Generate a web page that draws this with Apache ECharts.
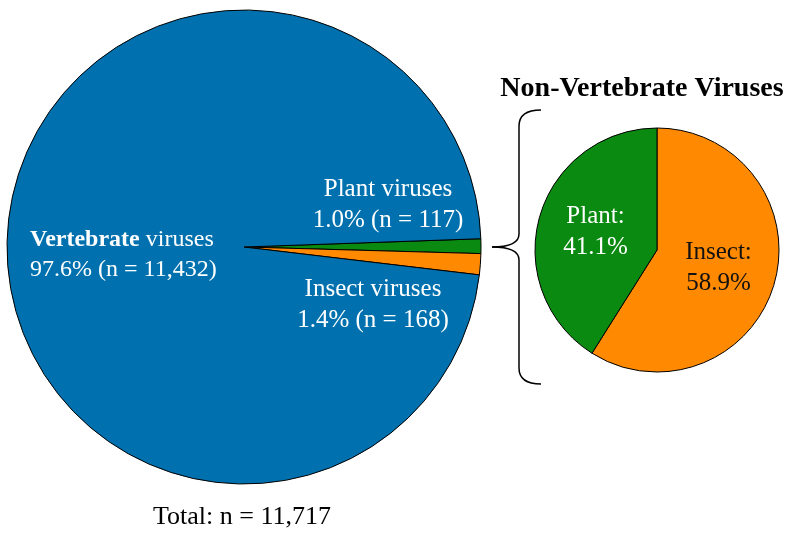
<!DOCTYPE html>
<html>
<head>
<meta charset="utf-8">
<script src="https://cdn.jsdelivr.net/npm/echarts@6/dist/echarts.min.js"></script>
<style>
    html, body { margin: 0; padding: 0; background: #fff; }
    #chart { width: 790px; height: 542px; }
</style>
</head>
<body>
<div id="chart"></div>
<script>
// data
const groupNames = ['Plant', 'Insect', 'Vertebrate'];
const groupCounts = [117, 168, 11432];
const subNames = ['Insect', 'Plant'];
const subCounts = [168, 117];
const groupColors = ['#0a8a10', '#ff8900', '#0071ae'];
const subColors = ['#ff8900', '#0a8a10'];

const total = groupCounts.reduce((a, b) => a + b, 0);
const subTotal = subCounts.reduce((a, b) => a + b, 0);
const pct = (v, t) => (v / t * 100).toFixed(1) + '%';
const fmtN = v => v.toLocaleString('en-US');

const serif = '"Liberation Serif", "DejaVu Serif", serif';

// pieces of the curly brace between the two pies
const braceStyle = { fill: null, stroke: '#000', lineWidth: 1.5 };
function curve(x1, y1, cx, cy, x2, y2) {
    return { type: 'bezierCurve', shape: { x1: x1, y1: y1, cpx1: cx, cpy1: cy, x2: x2, y2: y2 }, style: braceStyle };
}
function seg(x1, y1, x2, y2) {
    return { type: 'line', shape: { x1: x1, y1: y1, x2: x2, y2: y2 }, style: braceStyle };
}

var myChart = echarts.init(document.getElementById('chart'));

myChart.setOption({
    animation: false,
    textStyle: { fontFamily: serif },
    title: {
        text: 'Non-Vertebrate Viruses',
        left: 637,
        top: 70,
        textAlign: 'center',
        textStyle: {
            fontFamily: serif,
            fontWeight: 'bold',
            fontSize: 28,
            color: '#000'
        }
    },
    series: [
        {
            name: 'All viruses',
            type: 'pie',
            center: [244, 247],
            radius: 237,
            startAngle: 2,
            clockwise: true,
            label: { show: false },
            labelLine: { show: false },
            emphasis: { disabled: true },
            itemStyle: { borderColor: '#000', borderWidth: 1 },
            data: groupNames.map((n, i) => ({
                name: n,
                value: groupCounts[i],
                itemStyle: { color: groupColors[i] }
            }))
        },
        {
            name: 'Non-Vertebrate',
            type: 'pie',
            center: [657, 250],
            radius: 122,
            startAngle: 90,
            clockwise: true,
            emphasis: { disabled: true },
            itemStyle: { borderColor: '#000', borderWidth: 1 },
            label: {
                show: true,
                position: 'inside',
                fontFamily: serif,
                fontSize: 25,
                lineHeight: 31,
                formatter: p => p.name + ':\n' + pct(p.value, subTotal)
            },
            data: subNames.map((n, i) => ({
                name: n,
                value: subCounts[i],
                itemStyle: { color: subColors[i] },
                label: { color: n === 'Plant' ? '#fff' : '#111' }
            }))
        }
    ],
    graphic: [
        {
            type: 'text',
            z: 50,
            x: 30, y: 225,
            style: {
                text: '{b|' + groupNames[2] + '} viruses\n' + pct(groupCounts[2], total) + ' (n = ' + fmtN(groupCounts[2]) + ')',
                fill: '#fff',
                font: '24px ' + serif,
                lineHeight: 30,
                rich: {
                    b: { fontWeight: 'bold', fontSize: 24, fontFamily: serif, fill: '#fff', lineHeight: 30 }
                }
            }
        },
        {
            type: 'text',
            z: 50,
            x: 388, y: 174,
            style: {
                text: groupNames[0] + ' viruses\n' + pct(groupCounts[0], total) + ' (n = ' + fmtN(groupCounts[0]) + ')',
                fill: '#fff',
                font: '25px ' + serif,
                lineHeight: 31,
                align: 'center'
            }
        },
        {
            type: 'text',
            z: 50,
            x: 373, y: 274,
            style: {
                text: groupNames[1] + ' viruses\n' + pct(groupCounts[1], total) + ' (n = ' + fmtN(groupCounts[1]) + ')',
                fill: '#fff',
                font: '25px ' + serif,
                lineHeight: 31,
                align: 'center'
            }
        },
        {
            type: 'text',
            z: 50,
            x: 242, y: 504,
            style: {
                text: 'Total: n = ' + fmtN(total),
                fill: '#000',
                font: '26px ' + serif,
                align: 'center'
            }
        },
        curve(541, 110, 519, 110, 519, 126),
        seg(519, 126, 519, 234),
        curve(519, 234, 519, 247, 492, 247),
        curve(492, 247, 519, 247, 519, 260),
        seg(519, 260, 519, 368),
        curve(519, 368, 519, 384, 541, 384)
    ]
});
</script>
</body>
</html>
